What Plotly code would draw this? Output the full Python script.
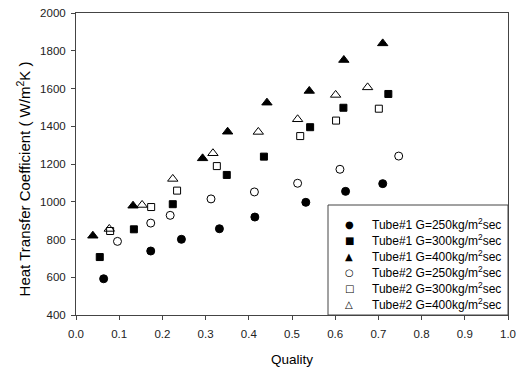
import plotly.graph_objects as go

# Tube#1
t1_250_x = [0.064, 0.173, 0.244, 0.332, 0.414, 0.532, 0.624, 0.710]
t1_250_y = [592, 739, 801, 857, 919, 997, 1055, 1096]
t1_300_x = [0.055, 0.134, 0.224, 0.349, 0.435, 0.542, 0.619, 0.723]
t1_300_y = [707, 854, 987, 1142, 1239, 1395, 1498, 1571]
t1_400_x = [0.039, 0.132, 0.293, 0.351, 0.442, 0.540, 0.620, 0.710]
t1_400_y = [820, 979, 1230, 1371, 1525, 1587, 1751, 1839]
# Tube#2
t2_250_x = [0.096, 0.173, 0.218, 0.3125, 0.413, 0.513, 0.611, 0.747]
t2_250_y = [790, 887, 928, 1015, 1052, 1098, 1172, 1242]
t2_300_x = [0.079, 0.174, 0.234, 0.326, 0.519, 0.602, 0.701]
t2_300_y = [845, 972, 1059, 1189, 1348, 1430, 1493]
t2_400_x = [0.077, 0.153, 0.224, 0.317, 0.422, 0.513, 0.601, 0.675]
t2_400_y = [856, 983, 1121, 1257, 1370, 1437, 1566, 1606]

names = [
    "Tube#1 G=250kg/m<sup>2</sup>sec",
    "Tube#1 G=300kg/m<sup>2</sup>sec",
    "Tube#1 G=400kg/m<sup>2</sup>sec",
    "Tube#2 G=250kg/m<sup>2</sup>sec",
    "Tube#2 G=300kg/m<sup>2</sup>sec",
    "Tube#2 G=400kg/m<sup>2</sup>sec",
]
legend_glyphs = ["\u25CF", "\u25A0", "\u25B2", "\u25CB", "\u25A1", "\u25B3"]
x_ticks = [0, 0.1, 0.2, 0.3, 0.4, 0.5, 0.6, 0.7, 0.8, 0.9, 1.0]
x_ticktext = ["0.0", "0.1", "0.2", "0.3", "0.4", "0.5", "0.6", "0.7", "0.8", "0.9", "1.0"]
y_ticks = [400, 600, 800, 1000, 1200, 1400, 1600, 1800, 2000]

xs = [t1_250_x, t1_300_x, t1_400_x, t2_250_x, t2_300_x, t2_400_x]
ys = [t1_250_y, t1_300_y, t1_400_y, t2_250_y, t2_300_y, t2_400_y]
symbols = ["circle", "square", "triangle-up", "circle-open", "square-open", "triangle-up-open"]
sizes = [8, 7, 9, 8, 7, 9]

FONT = "Arial, Liberation Sans, sans-serif"

fig = go.Figure()
for x, y, n, s, sz in zip(xs, ys, names, symbols, sizes):
    fig.add_trace(go.Scatter(
        x=x, y=y, mode="markers", name=n, showlegend=False,
        marker=dict(symbol=s, size=sz, color="black", line=dict(color="black", width=1)),
    ))

axis_common = dict(
    showline=True, linecolor="#444", linewidth=1, mirror=True,
    ticks="outside", ticklen=4, tickcolor="#444", showgrid=False, zeroline=False,
    tickfont=dict(family=FONT, size=11.5, color="#222"),
    automargin=False,
)

# legend box (manual, compact rows as in the original)
PLOT_L, PLOT_W, PLOT_B, PLOT_H = 76, 432, 315, 302
def px_x(p):
    return (p - PLOT_L) / PLOT_W
def px_y(p):
    return (PLOT_B - p) / PLOT_H

annotations = [dict(
    text="Heat Transfer Coefficient ( W/m<sup>2</sup>K )",
    xref="paper", yref="paper", x=-0.122, y=0.45,
    xanchor="center", yanchor="middle", textangle=-90, showarrow=False,
    font=dict(family=FONT, size=15, color="black"),
)]
row0, row_gap = 224, 16
for i, (g, n) in enumerate(zip(legend_glyphs, names)):
    ry = px_y(row0 + i * row_gap)
    annotations.append(dict(
        text=g, xref="paper", yref="paper", x=px_x(349), y=ry,
        xanchor="center", yanchor="middle", showarrow=False,
        font=dict(family="DejaVu Sans", size=10, color="black"),
    ))
    annotations.append(dict(
        text=n, xref="paper", yref="paper", x=px_x(370), y=ry,
        xanchor="left", yanchor="middle", showarrow=False,
        font=dict(family=FONT, size=12, color="black"),
    ))

fig.update_layout(
    width=521, height=368,
    margin=dict(l=76, r=13, t=13, b=53),
    paper_bgcolor="white", plot_bgcolor="white",
    font=dict(family=FONT, size=12, color="black"),
    xaxis=dict(range=[0, 1.0], tickmode="array", tickvals=x_ticks, ticktext=x_ticktext,
               ticklabelstandoff=4,
               title=dict(text="Quality", font=dict(family=FONT, size=13.5)), **axis_common),
    yaxis=dict(range=[400, 2000], tickmode="array", tickvals=y_ticks,
               ticklabelstandoff=3, **axis_common),
    showlegend=False,
    shapes=[dict(type="rect", xref="paper", yref="paper",
                 x0=px_x(328), x1=1.0, y0=0.0, y1=px_y(205),
                 line=dict(color="#444", width=1), fillcolor="white", layer="above")],
    annotations=annotations,
)

fig.write_html("out.html")
